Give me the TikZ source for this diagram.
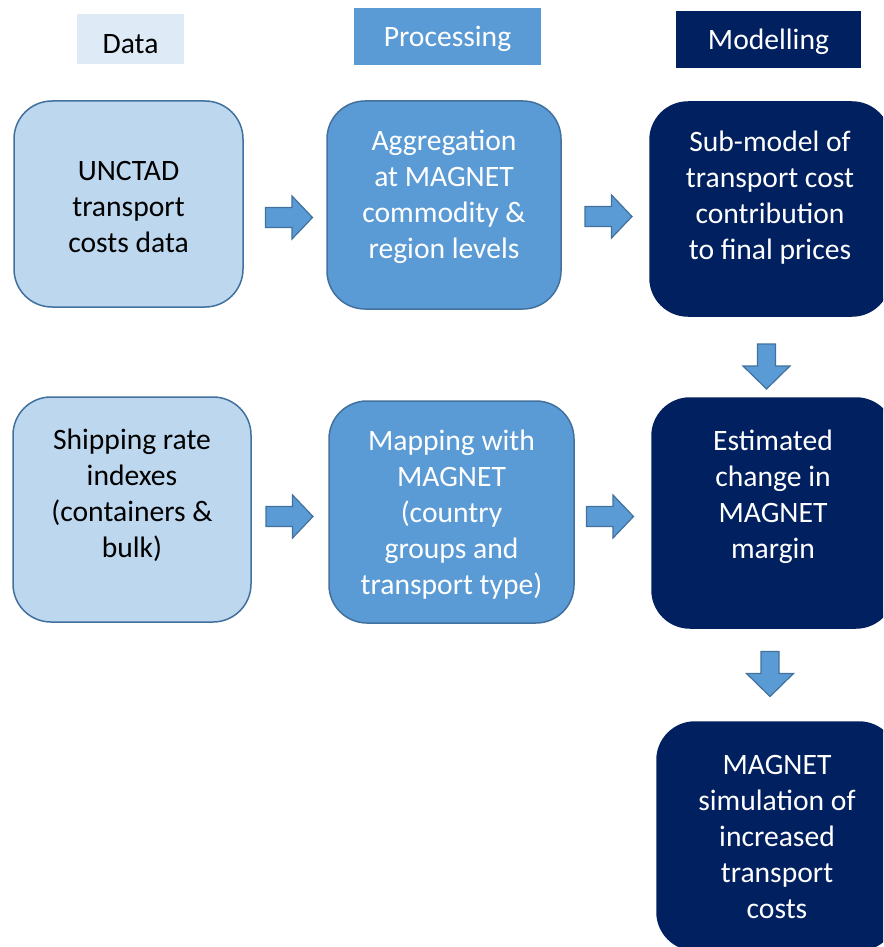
\documentclass[tikz,border=0pt]{standalone}
\usepackage{fontspec}
\setmainfont{Carlito}
\usetikzlibrary{calc}
\definecolor{lightb}{HTML}{BDD7EE}
\definecolor{hdrlight}{HTML}{DEEBF7}
\definecolor{midb}{HTML}{5B9BD5}
\definecolor{darkb}{HTML}{002060}
\definecolor{edgeb}{HTML}{41719C}
\begin{document}
\begin{tikzpicture}[x=1pt,y=-1pt,
  hdr/.style={rectangle,inner sep=0pt,draw=none},
  box/.style={rectangle,rounded corners=38pt,inner sep=0pt,line width=1.5pt,draw=edgeb},
  lbox/.style={box,fill=lightb},
  mbox/.style={box,fill=midb},
  dbox/.style={box,fill=darkb,draw=darkb},
  txt/.style={align=center,inner sep=0pt,font=\fontsize{29.6}{36}\selectfont},
  wtxt/.style={txt,text=white},
  btxt/.style={txt,text=black},
  blockarrow/.style={fill=midb,draw=edgeb,line width=1.2pt,line join=miter},
  rarrow/.pic={\draw[blockarrow] (-23.5,-10) -- (3,-10) -- (3,-21.5) -- (23.5,0) -- (3,21.5) -- (3,10) -- (-23.5,10) -- cycle;},
  darrow/.pic={\draw[blockarrow] (-9,-22.5) -- (-9,-0.5) -- (-23.5,-0.5) -- (0,22.5) -- (23.5,-0.5) -- (9,-0.5) -- (9,-22.5) -- cycle;}
]
\clip (0,0) rectangle (883,947);
\fill[white] (0,0) rectangle (883,947);

% headers
\node[hdr,fill=hdrlight,minimum width=107pt,minimum height=50pt] (hdata) at (130.5,39) {};
\node[btxt] (hdataT) at (130.5,44) {Data};
\node[hdr,fill=midb,minimum width=187pt,minimum height=57pt] (hproc) at (447.5,36.5) {};
\node[wtxt] (hprocT) at (447.5,39) {Processing};
\node[hdr,fill=darkb,minimum width=185pt,minimum height=57pt] (hmod) at (768.5,39.5) {};
\node[wtxt] (hmodT) at (768.5,42) {Modelling};

% row 1
\node[lbox,minimum width=229pt,minimum height=206pt] (unctad) at (128.5,204) {};
\node[btxt] (unctadT) at (128.5,207) {UNCTAD\\transport\\costs data};
\node[mbox,minimum width=234pt,minimum height=208pt] (agg) at (444,205) {};
\node[wtxt] (aggT) at (444,197) {Aggregation\\at MAGNET\\commodity \&\\region levels};
\node[dbox,minimum width=240pt,minimum height=214pt] (sub) at (770,209) {};
\node[wtxt] (subT) at (770,198) {Sub-model of\\transport cost\\contribution\\to final prices};

% row 2
\node[lbox,minimum width=238pt,minimum height=225pt] (ship) at (132,509.5) {};
\node[btxt] (shipT) at (132,495) {Shipping rate\\indexes\\(containers \&\\bulk)};
\node[mbox,minimum width=245pt,minimum height=222pt] (map) at (451.5,512) {};
\node[wtxt] (mapT) at (451.5,515) {Mapping with\\MAGNET\\(country\\groups and\\transport type)};
\node[dbox,minimum width=242pt,minimum height=230pt] (est) at (773,513) {};
\node[wtxt] (estT) at (773,497) {Estimated\\change in\\MAGNET\\margin};

% row 3
\node[dbox,minimum width=240pt,minimum height=228pt] (sim) at (777,836) {};
\node[wtxt] (simT) at (777,837) {MAGNET\\simulation of\\increased\\transport\\costs};

% arrows
\pic (a1) at (289,217.5) {rarrow};
\pic (a2) at (608.5,216.5) {rarrow};
\pic (a3) at (289.5,516.5) {rarrow};
\pic (a4) at (610,516.5) {rarrow};
\pic (d1) at (766.5,366.5) {darrow};
\pic (d2) at (770,674) {darrow};
\end{tikzpicture}
\end{document}
